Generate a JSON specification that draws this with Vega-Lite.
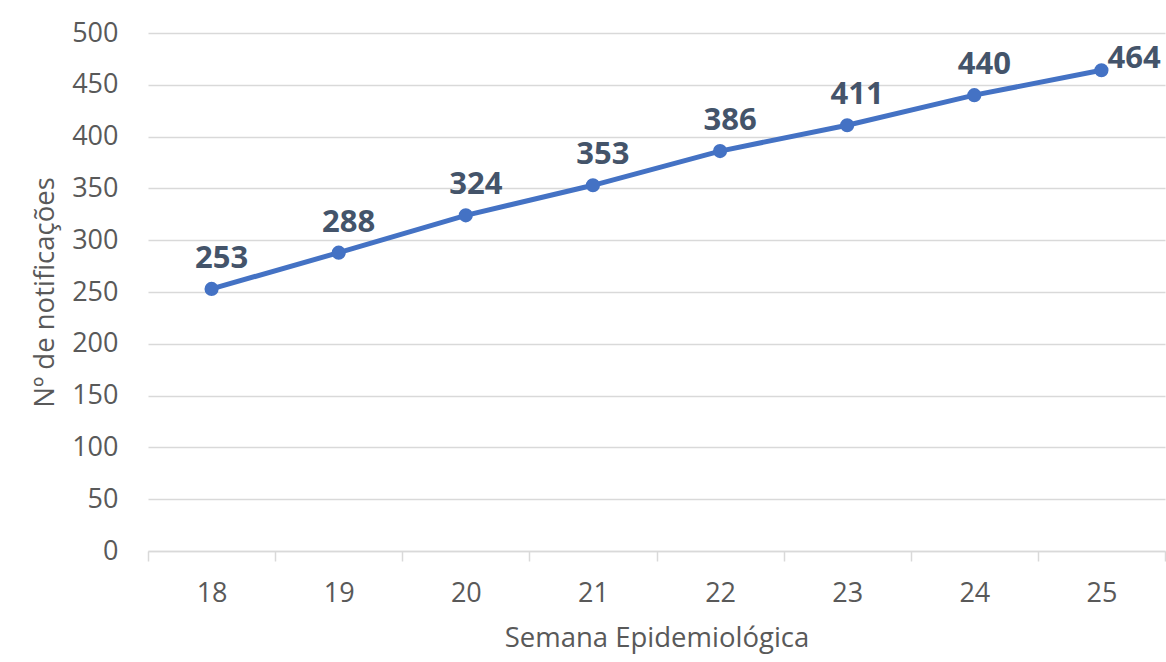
{
  "$schema": "https://vega.github.io/schema/vega-lite/v6.json",
  "width": 1017,
  "height": 518,
  "autosize": {"type": "none"},
  "padding": {"left": 148, "top": 33, "right": 1, "bottom": 111},
  "background": "white",
  "config": {
    "view": {"stroke": null},
    "font": "Open Sans"
  },
  "data": {
    "values": [
      {"semana": "18", "notificacoes": 253},
      {"semana": "19", "notificacoes": 288},
      {"semana": "20", "notificacoes": 324},
      {"semana": "21", "notificacoes": 353},
      {"semana": "22", "notificacoes": 386},
      {"semana": "23", "notificacoes": 411},
      {"semana": "24", "notificacoes": 440},
      {"semana": "25", "notificacoes": 464}
    ]
  },
  "encoding": {
    "x": {
      "field": "semana",
      "type": "ordinal",
      "scale": {"type": "band", "paddingInner": 0, "paddingOuter": 0},
      "axis": {
        "title": "Semana Epidemiológica",
        "labelAngle": 0,
        "labelFont": "Open Sans",
        "labelFontSize": 27,
        "labelColor": "#595959",
        "labelPadding": 19,
        "tickBand": "extent",
        "tickSize": 10,
        "tickColor": "#D9D9D9",
        "tickWidth": 1.5,
        "domainColor": "#D9D9D9",
        "domainWidth": 1.5,
        "grid": false,
        "titleFont": "Open Sans",
        "titleFontSize": 27.5,
        "titleFontWeight": "normal",
        "titleColor": "#595959",
        "titlePadding": 18
      }
    },
    "y": {
      "field": "notificacoes",
      "type": "quantitative",
      "scale": {"domain": [0, 500], "nice": false},
      "axis": {
        "title": "Nº de notificações",
        "values": [0, 50, 100, 150, 200, 250, 300, 350, 400, 450, 500],
        "domain": false,
        "ticks": false,
        "labelFont": "Open Sans",
        "labelFontSize": 27,
        "labelColor": "#595959",
        "labelPadding": 30,
        "gridColor": "#D9D9D9",
        "gridWidth": 1.5,
        "titleFont": "Open Sans",
        "titleFontSize": 27.5,
        "titleFontWeight": "normal",
        "titleColor": "#595959",
        "titlePadding": 12
      }
    }
  },
  "layer": [
    {
      "mark": {"type": "line", "color": "#4472C4", "strokeWidth": 5}
    },
    {
      "mark": {"type": "point", "filled": true, "opacity": 1, "color": "#4472C4", "size": 200}
    },
    {
      "transform": [{"filter": "datum.semana != '25'"}],
      "mark": {"type": "text", "font": "Open Sans", "fontSize": 31, "fontWeight": "bold", "color": "#44546A", "baseline": "alphabetic", "align": "center", "dx": 10, "dy": -21},
      "encoding": {"text": {"field": "notificacoes", "type": "quantitative"}}
    },
    {
      "transform": [{"filter": "datum.semana == '25'"}],
      "mark": {"type": "text", "font": "Open Sans", "fontSize": 31, "fontWeight": "bold", "color": "#44546A", "baseline": "alphabetic", "align": "left", "dx": 6, "dy": -2},
      "encoding": {"text": {"field": "notificacoes", "type": "quantitative"}}
    }
  ]
}
